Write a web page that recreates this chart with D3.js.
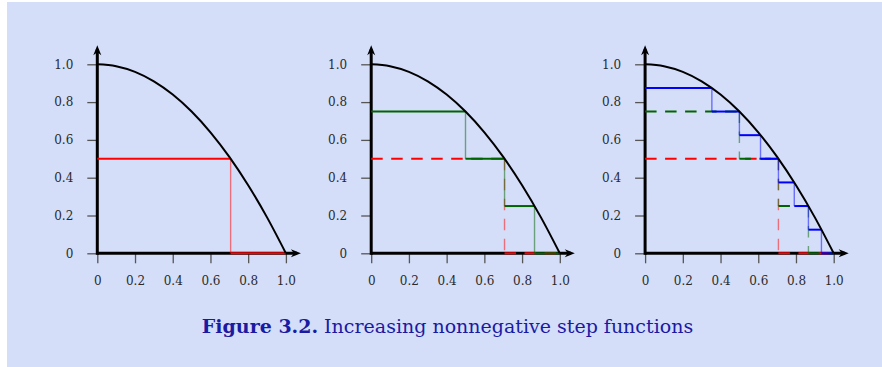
<!DOCTYPE html>
<html>
<head>
<meta charset="utf-8">
<script src="https://cdn.jsdelivr.net/npm/d3@7"></script>
<style>
html,body{margin:0;padding:0;background:#ffffff;}
svg{display:block;}
</style>
</head>
<body>
<svg id="chart" width="882" height="367"></svg>
<script>
// ---- data ----
const xTicks = [0, 0.2, 0.4, 0.6, 0.8, 1.0];
const yTicks = [0, 0.2, 0.4, 0.6, 0.8, 1.0];
const xTickLabels = ["0", "0.2", "0.4", "0.6", "0.8", "1.0"];
const yTickLabels = ["0", "0.2", "0.4", "0.6", "0.8", "1.0"];

// curve f(x)
const curveX = [0, 0.1, 0.2, 0.3, 0.4, 0.5, 0.6, 0.7, 0.8, 0.9, 1.0];
const curveY = [1, 0.99, 0.96, 0.91, 0.84, 0.75, 0.64, 0.51, 0.36, 0.19, 0];

// step functions: breakpoints and levels
const step1Breaks = [0, 0.707, 1];
const step1Levels = [0.5, 0];
const step2Breaks = [0, 0.5, 0.707, 0.866, 1];
const step2Levels = [0.75, 0.5, 0.25, 0];
const step3Breaks = [0, 0.354, 0.5, 0.612, 0.707, 0.791, 0.866, 0.935, 1];
const step3Levels = [0.875, 0.75, 0.625, 0.5, 0.375, 0.25, 0.125, 0];

const stepColors = ["#ff0000", "#006400", "#0000ff"];
const caption = {bold: "Figure 3.2.", rest: " Increasing nonnegative step functions"};

// ---- layout ----
const svg = d3.select("#chart");
svg.append("rect").attr("x", 7).attr("y", 2).attr("width", 875).attr("height", 365).attr("fill", "#d4def9");

const panelOrigins = [97.3, 371.2, 645.1];
const W = 188.6, Y0 = 253.3, Y1 = 64.3;

const steps = [
  {breaks: step1Breaks, levels: step1Levels},
  {breaks: step2Breaks, levels: step2Levels},
  {breaks: step3Breaks, levels: step3Levels}
];

function drawStep(g, x, y, s, color, dashed) {
  const dash = dashed ? "11.5,8.5" : null;
  for (let i = 0; i < s.levels.length - 1; i++) {
    g.append("line")
      .attr("x1", x(s.breaks[i+1])).attr("x2", x(s.breaks[i+1]))
      .attr("y1", y(s.levels[i])).attr("y2", y(s.levels[i+1]))
      .attr("stroke", color).attr("stroke-width", 1.4).attr("stroke-opacity", 0.5)
      .attr("stroke-dasharray", dash);
  }
  for (let i = 0; i < s.levels.length; i++) {
    g.append("line")
      .attr("x1", x(s.breaks[i])).attr("x2", x(s.breaks[i+1]))
      .attr("y1", y(s.levels[i])).attr("y2", y(s.levels[i]))
      .attr("stroke", color).attr("stroke-width", 2)
      .attr("stroke-dasharray", dash);
  }
}

panelOrigins.forEach((ox, p) => {
  const x = d3.scaleLinear().domain([0, 1]).range([ox, ox + W]);
  const y = d3.scaleLinear().domain([0, 1]).range([Y0, Y1]);
  const g = svg.append("g");

  const xAxis = d3.axisBottom(x).tickValues(xTicks).tickFormat((d, i) => xTickLabels[i]).tickSize(10).tickPadding(13);
  const yAxis = d3.axisLeft(y).tickValues(yTicks).tickFormat((d, i) => yTickLabels[i]).tickSize(10).tickPadding(14);
  const gx = g.append("g").attr("transform", `translate(0,${Y0})`).call(xAxis);
  const gy = g.append("g").attr("transform", `translate(${ox},0)`).call(yAxis);
  [gx, gy].forEach(a => {
    a.select(".domain").remove();
    a.selectAll(".tick line").attr("stroke", "#555").attr("stroke-width", 1.3);
    a.selectAll(".tick text").attr("fill", "#2a2a2a").attr("font-family", "DejaVu Serif").attr("font-size", 12);
  });

  const xEnd = ox + W + 15, yEnd = Y1 - 19;
  g.append("line").attr("x1", ox).attr("x2", xEnd - 4).attr("y1", Y0).attr("y2", Y0).attr("stroke", "#000").attr("stroke-width", 3);
  g.append("line").attr("x1", ox).attr("x2", ox).attr("y1", Y0 + 1.5).attr("y2", yEnd + 4).attr("stroke", "#000").attr("stroke-width", 3);
  g.append("path").attr("d", `M${xEnd},${Y0} L${xEnd-10},${Y0-4} L${xEnd-7},${Y0} L${xEnd-10},${Y0+4} Z`).attr("fill", "#000");
  g.append("path").attr("d", `M${ox},${yEnd} L${ox-4},${yEnd+10} L${ox},${yEnd+7} L${ox+4},${yEnd+10} Z`).attr("fill", "#000");

  for (let k = 0; k <= p; k++) {
    drawStep(g, x, y, steps[k], stepColors[k], k < p);
  }

  const pts = curveX.map((v, i) => [v, curveY[i]]);
  g.append("path").datum(pts)
    .attr("d", d3.line().x(d => x(d[0])).y(d => y(d[1])).curve(d3.curveMonotoneX))
    .attr("fill", "none").attr("stroke", "#000").attr("stroke-width", 2);
});

const cap = svg.append("text").attr("x", 447.5).attr("y", 333).attr("text-anchor", "middle")
  .attr("font-family", "DejaVu Serif").attr("font-size", 19).attr("fill", "#1a1aa3");
cap.append("tspan").attr("font-weight", "bold").text(caption.bold);
cap.append("tspan").text(caption.rest);
</script>
</body>
</html>
